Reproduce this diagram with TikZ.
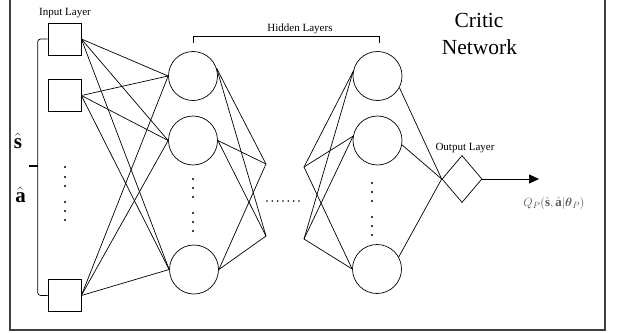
\documentclass[tikz,border=0pt]{standalone}
\usepackage{amsmath}
\usepackage{fontspec}
\setmainfont{Liberation Serif}
\usetikzlibrary{shapes.geometric,arrows.meta}
\begin{document}
\begin{tikzpicture}[x=1pt,y=-1pt,line width=0.7pt,
  inp/.style={draw,rectangle,minimum width=33pt,minimum height=32pt,inner sep=0pt},
  neu/.style={draw,circle,minimum size=49pt,inner sep=0pt},
  outn/.style={draw,diamond,minimum width=40pt,minimum height=47pt,inner sep=0pt},
  lbl/.style={font=\fontsize{11}{13}\selectfont,inner sep=0pt,anchor=base},
  big/.style={font=\fontsize{21.5}{26}\selectfont,inner sep=0pt,anchor=base},
  vec/.style={font=\fontsize{21}{24}\selectfont,inner sep=0pt,anchor=base},
  framec/.style={draw=black!75,line width=1.4pt},
  conn/.style={draw=black,line width=0.7pt}]
\useasboundingbox (0,0) rectangle (620,332);
% frame
\draw[framec] (10,-4) -- (10,330) -- (605,330) -- (605,-4);
% input layer
\node[inp] (i1) at (64.5,39) {};
\node[inp] (i2) at (64.5,95.5) {};
\node[inp] (i3) at (64.5,295.5) {};
\node[lbl] (linp) at (65,15) {Input Layer};
% hidden layers
\node[neu] (h1) at (193,76) {};
\node[neu] (h2) at (193,140.5) {};
\node[neu] (h3) at (194,269.5) {};
\node[neu] (g1) at (377.5,76) {};
\node[neu] (g2) at (377.5,140.5) {};
\node[neu] (g3) at (377,269) {};
\node[lbl] (lhid) at (300,31) {Hidden Layers};
\draw[conn] (193,43) -- (193,36) -- (379,36) -- (379,43);
% output
\node[outn] (o) at (462,179) {};
\node[lbl] (lout) at (465,150) {Output Layer};
\coordinate (qend) at (539,179);
\draw[conn,-{Triangle[length=10pt,width=9pt]}] (o.east) -- (qend);
\node[inner sep=0pt,anchor=base,text=black!65,font=\fontsize{13}{15}\selectfont] (q) at (554,206)
  {$Q_P(\hat{\mathbf{s}},\hat{\mathbf{a}}|\boldsymbol{\theta}_P)$};
% title
\node[big] (t1) at (479,27) {Critic};
\node[big] (t2) at (479.5,54) {Network};
% inputs labels and brace
\node[vec] (ls) at (18,148) {$\hat{\mathbf{s}}$};
\node[vec] (la) at (20.5,202) {$\hat{\mathbf{a}}$};
\draw[conn,rounded corners=3pt] (i1.west) -- ++(-10,0) |- (i3.west);
\coordinate (bm) at (38,166);
\coordinate (bt) at (29,166);
\draw[line width=1.5pt] (bm) -- (bt);
% fan points
\coordinate (p1) at (266,164);
\coordinate (p2) at (266,236);
\coordinate (p3) at (304,167);
\coordinate (p4) at (304,239);
% connections input -> hidden1
\foreach \a in {i1,i2,i3}{
  \foreach \b in {h1,h2,h3}{
    \draw[conn] (\a.east) -- (\b.west);
  }
}
% hidden1 -> truncated
\foreach \a in {h1.18,h2.east,h3.east}{
  \draw[conn] (\a) -- (p1);
  \draw[conn] (\a) -- (p2);
}
% truncated -> hidden2
\foreach \b in {g1.170,g2.170,g3.west}{
  \draw[conn] (p3) -- (\b);
  \draw[conn] (p4) -- (\b);
}
% hidden2 -> output
\foreach \a in {g1.-28,g2.-10,g3.29}{
  \draw[conn] (\a) -- (o.west);
}
% dots
\foreach \y in {167,177,186,202,211,220}{\fill (65,\y) circle (1.1pt);}
\foreach \y in {179,188,197,213,222,231}{\fill (193,\y) circle (1.1pt);}
\foreach \y in {183,192,201,217,226,235}{\fill (372,\y) circle (1.1pt);}
\foreach \x in {267,272.3,277.7,283,288.3,293.7,299}{\fill (\x,201) circle (0.9pt);}
\end{tikzpicture}
\end{document}
